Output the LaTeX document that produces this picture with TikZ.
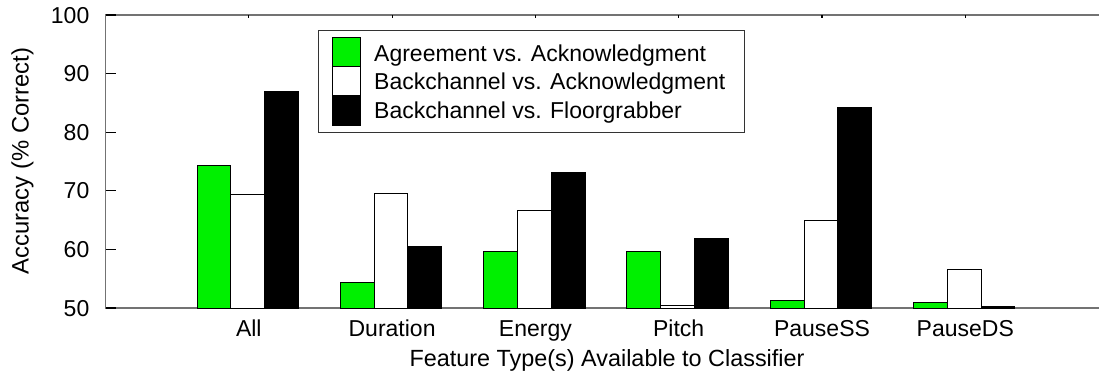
\documentclass[tikz,border=0pt]{standalone}
\usepackage{fontspec}
\setmainfont{Liberation Sans}
\definecolor{bargreen}{RGB}{0,240,0}
\begin{document}
\begin{tikzpicture}[x=1pt,y=-1pt,
  lbl/.style={font=\fontsize{23}{26}\selectfont, inner sep=0pt},
  frameline/.style={draw=black!55, line width=1.2pt},
  tickline/.style={draw=black, line width=1.1pt},
  barbox/.style={draw=black, line width=0.9pt},
  gbar/.style={barbox, fill=bargreen},
  wbar/.style={barbox, fill=white},
  kbar/.style={barbox, fill=black}]
\useasboundingbox (0,0) rectangle (1099,373);
\begin{scope}
\clip (0,0) rectangle (1099,373);
% frame
\draw[frameline] (105.5,15) rectangle (1108.6,308);
% y ticks and labels
\foreach \v in {50,60,...,100} {
  \pgfmathsetmacro\yy{308-(\v-50)*5.86}
  \draw[tickline] (105.5,\yy) -- (115.5,\yy);
  \draw[tickline] (1108.6,\yy) -- (1098.6,\yy);
  \node[lbl, anchor=base east] (ytl\v) at (89.5,\yy+8) {\v};
}
% bars
\foreach \i/\name/\g/\w/\b in {1/All/74.3/69.3/87.0, 2/Duration/54.4/69.5/60.5, 3/Energy/59.7/66.7/73.1, 4/Pitch/59.6/50.4/61.9, 5/PauseSS/51.3/65.0/84.2, 6/PauseDS/51.0/56.5/50.2} {
  \pgfmathsetmacro\xc{105.5+143.3*\i}
  \draw[tickline] (\xc,15) -- (\xc,18);
  \draw[tickline] (\xc,308) -- (\xc,305);
  \draw[gbar] (\xc-51.8,308) rectangle (\xc-18,{308-(\g-50)*5.86});
  \draw[wbar] (\xc-18,308) rectangle (\xc+15.8,{308-(\w-50)*5.86});
  \draw[kbar] (\xc+15.8,308) rectangle (\xc+49.6,{308-(\b-50)*5.86});
  \node[lbl, anchor=base] (xtl\i) at (\xc,336) {\name};
}
\end{scope}
% axis titles
\node[lbl, font=\fontsize{23.4}{26}\selectfont, anchor=base] (xtitle) at (607,366.5) {Feature Type(s) Available to Classifier};
\node[lbl, font=\fontsize{23.8}{26}\selectfont, anchor=base, rotate=90] (ytitle) at (28.5,161) {Accuracy (\% Correct)};
% legend
\node[draw=black!80, line width=1pt, fill=white, minimum width=426pt, minimum height=102.3pt, inner sep=0pt, anchor=north west] (legend) at (318.3,30) {};
\draw[gbar] (332,37.3) rectangle (360.3,66.3);
\draw[wbar] (332,66.3) rectangle (360.3,95);
\draw[kbar] (332,95) rectangle (360.3,125.7);
\node[lbl, anchor=base west] (l1) at (374,61) {Agreement vs. Acknowledgment};
\node[lbl, anchor=base west] (l2) at (374,89.5) {Backchannel vs. Acknowledgment};
\node[lbl, anchor=base west] (l3) at (374,118.3) {Backchannel vs. Floorgrabber};
\end{tikzpicture}
\end{document}
